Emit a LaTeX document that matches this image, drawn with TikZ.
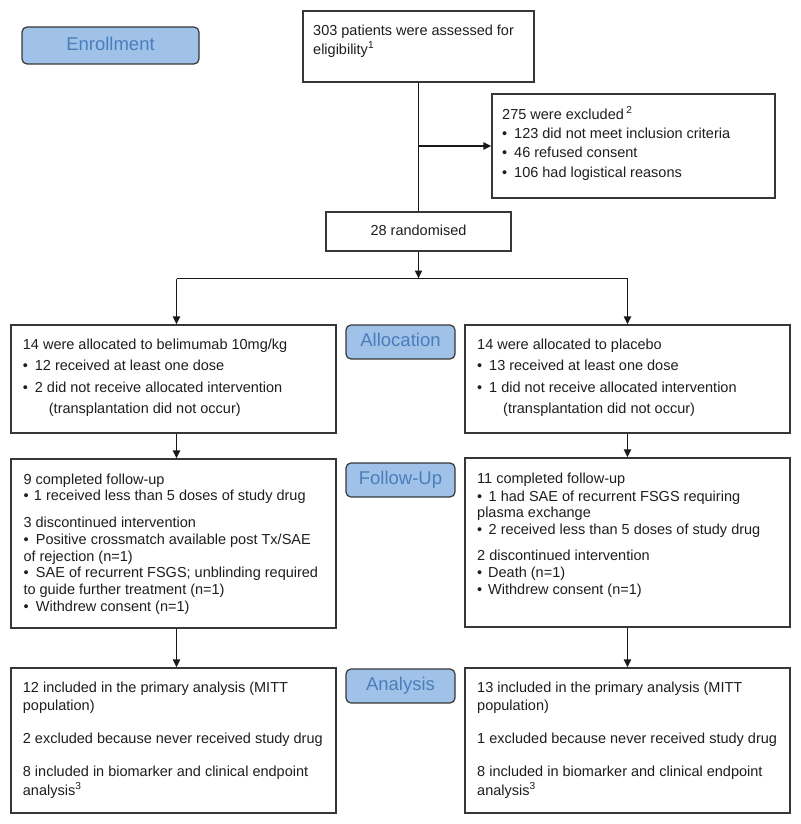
\documentclass[tikz,border=0pt]{standalone}
\usepackage{fontspec}
\setmainfont{Liberation Sans}
\usetikzlibrary{arrows.meta}
\definecolor{lblfill}{RGB}{160,194,232}
\definecolor{lbltext}{RGB}{74,126,187}
\definecolor{boxline}{RGB}{55,55,55}
\definecolor{txtcol}{RGB}{30,30,30}
\newcommand\bul[1][12pt]{\makebox[#1][l]{•}}
\newcommand\fl{\rule{0pt}{14pt}}
\begin{document}
\begin{tikzpicture}[x=1pt,y=-1pt,
  box/.style={draw=boxline, line width=1.2pt, fill=white, inner sep=0pt},
  lbl/.style={draw=boxline, line width=1.2pt, fill=lblfill, rounded corners=5pt,
    text=lbltext, font=\fontsize{18.5}{22}\selectfont, inner sep=0pt,
    text height=13.5pt, text depth=4pt},
  txt/.style={anchor=north west, inner sep=0pt, align=left, text=txtcol},
  conn/.style={line width=1.9pt, draw=black!90},
  arr/.style={conn, -{Triangle[length=8pt,width=7pt]}},
]
\fill[white] (0,0) rectangle (800,824);
\useasboundingbox (0,0) rectangle (800,824);

% boxes
\node[box, minimum width=231pt, minimum height=71pt] (top) at (418.5,46.5) {};
\node[box, minimum width=283pt, minimum height=104pt] (excl) at (633.5,146) {};
\node[box, minimum width=185pt, minimum height=39pt, text=txtcol,
  font=\fontsize{14.5}{17}\selectfont, text height=10.5pt, text depth=3pt] (rand) at (418.5,231.5) {28 randomised};
\node[box, minimum width=325pt, minimum height=108pt] (allocL) at (173.5,379) {};
\node[box, minimum width=325pt, minimum height=108pt] (allocR) at (627.5,379) {};
\node[box, minimum width=325pt, minimum height=169pt] (fuL) at (173.5,543.5) {};
\node[box, minimum width=325pt, minimum height=169pt] (fuR) at (627.5,542.5) {};
\node[box, minimum width=325pt, minimum height=145pt] (anL) at (173.5,740.5) {};
\node[box, minimum width=325pt, minimum height=145pt] (anR) at (627.5,740.5) {};

% stage labels
\node[lbl, minimum width=177pt, minimum height=37pt] (enroll) at (110.5,45.5) {Enrollment};
\node[lbl, minimum width=109pt, minimum height=34pt] (lalloc) at (400.5,342) {Allocation};
\node[lbl, minimum width=109pt, minimum height=34pt] (lfu) at (400.5,480) {Follow-Up};
\node[lbl, minimum width=109pt, minimum height=34pt] (lan) at (400.5,686) {Analysis};

% texts
\node[txt, font=\fontsize{14.5}{19}\selectfont] (ttop) at (313,21)
  {\fl 303 patients were assessed for\\ eligibility\textsuperscript{1}};
\node[txt, font=\fontsize{14.5}{19.3}\selectfont] (texcl) at (502,105)
  {\fl 275 were excluded\,\textsuperscript{2}\\
   \bul 123 did not meet inclusion criteria\\
   \bul 46 refused consent\\
   \bul 106 had logistical reasons};
\node[txt, font=\fontsize{14.5}{21.5}\selectfont] (tallocL) at (22.7,335)
  {\fl 14 were allocated to belimumab 10mg/kg\\
   \bul 12 received at least one dose\\
   \bul 2 did not receive allocated intervention\\
   \hspace*{26pt}(transplantation did not occur)};
\node[txt, font=\fontsize{14.5}{21.5}\selectfont] (tallocR) at (477,335)
  {\fl 14 were allocated to placebo\\
   \bul 13 received at least one dose\\
   \bul 1 did not receive allocated intervention\\
   \hspace*{26pt}(transplantation did not occur)};
\node[txt, font=\fontsize{14.5}{16.7}\selectfont] (tfuL) at (23.3,470)
  {\fl 9 completed follow-up\\
   \bul[10.5pt]1 received less than 5 doses of study drug\\[10pt]
   3 discontinued intervention\\
   \bul[12.5pt]Positive crossmatch available post Tx/SAE\\
   of rejection (n=1)\\
   \bul[12.5pt]SAE of recurrent FSGS; unblinding required\\
   to guide further treatment (n=1)\\
   \bul[12.5pt]Withdrew consent (n=1)};
\node[txt, font=\fontsize{14.5}{16.7}\selectfont] (tfuR) at (477,469)
  {\fl 11 completed follow-up\\[1.3pt]
   \bul[11.5pt]1 had SAE of recurrent FSGS requiring\\
   plasma exchange\\
   \bul[11.5pt]2 received less than 5 doses of study drug\\[9.3pt]
   2 discontinued intervention\\
   \bul[11pt]Death (n=1)\\
   \bul[11pt]Withdrew consent (n=1)};
\node[txt, font=\fontsize{14.5}{18.5}\selectfont] (tanL) at (22.7,678)
  {\fl 12 included in the primary analysis (MITT\\
   population)\\[14.5pt]
   2 excluded because never received study drug\\[14.5pt]
   8 included in biomarker and clinical endpoint\\
   analysis\textsuperscript{3}};
\node[txt, font=\fontsize{14.5}{18.5}\selectfont] (tanR) at (477,678)
  {\fl 13 included in the primary analysis (MITT\\
   population)\\[14.5pt]
   1 excluded because never received study drug\\[14.5pt]
   8 included in biomarker and clinical endpoint\\
   analysis\textsuperscript{3}};

% connectors
\coordinate (split) at (418.5,278.5);
\coordinate (hl) at (176.5,278.5);
\coordinate (hr) at (627.5,278.5);
\draw[conn] (top.south) -- (top.south |- rand.north);
\draw[arr] (top.south |- excl.west) -- (excl.west);
\draw[arr] (rand.south) -- (split);
\draw[conn] (hl) -- (hr);
\draw[arr] (hl) -- (hl |- allocL.north);
\draw[arr] (hr) -- (allocR.north);
\draw[arr] (allocL.south -| hl) -- (fuL.north -| hl);
\draw[arr] (allocR.south) -- (fuR.north);
\draw[arr] (fuL.south -| hl) -- (anL.north -| hl);
\draw[arr] (fuR.south) -- (anR.north);
\end{tikzpicture}
\end{document}
